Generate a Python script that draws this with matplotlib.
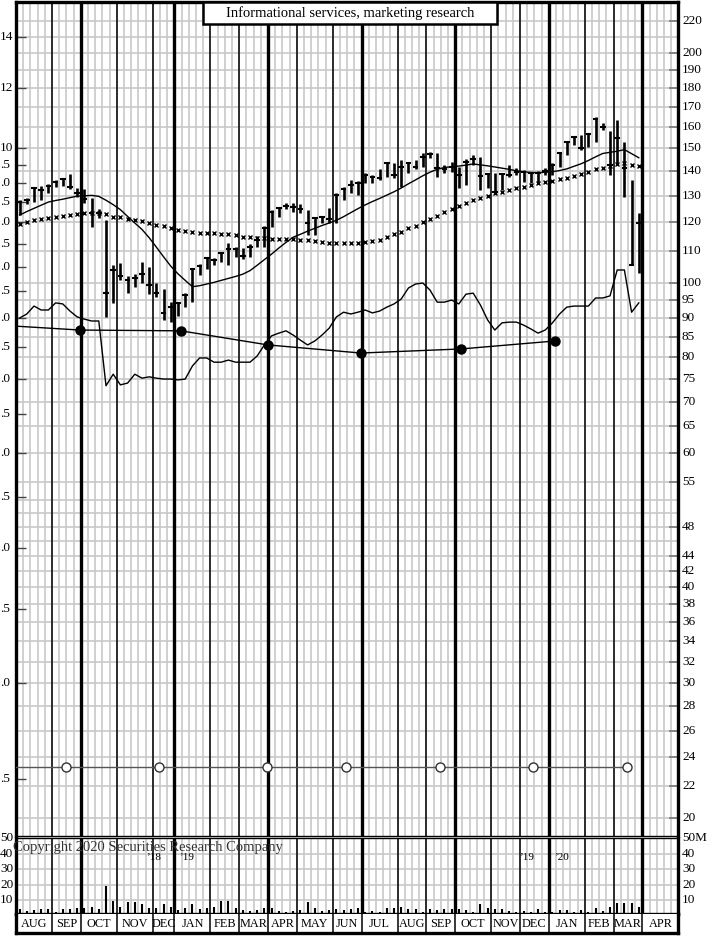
import numpy as np
import matplotlib.pyplot as plt
from matplotlib.patches import Rectangle
from matplotlib.transforms import blended_transform_factory

plt.rcParams['font.family'] = ['Liberation Serif', 'DejaVu Serif']

# Weekly price bars, Aug 2018 - Mar 2020 (one slot per week)
high = [128.4, 129.1, 133.5, 133.9, 134.7, 136.4, 137.2, 138.9, 133.1, 132.7,
        129.2, 124.9, 120.9, 105.6, 106.2, 102.1, 102.7, 106.5, 104.9, 100.0,
        98.2, 94.4, 94.4, 97.0, 104.6, 105.9, 108.1, 107.8, 109.8, 112.8,
        111.4, 111.1, 112.5, 115.2, 118.7, 124.6, 125.7, 127.2, 127.2, 126.8,
        124.6, 122.0, 122.3, 125.3, 131.1, 133.5, 136.4, 136.0, 139.3, 138.5,
        141.0, 143.9, 143.5, 144.8, 143.9, 144.8, 147.9, 148.3, 147.9, 142.6,
        143.9, 141.8, 145.2, 147.0, 146.1, 139.3, 139.3, 139.3, 142.6, 141.4,
        140.6, 139.7, 140.1, 141.4, 143.5, 148.3, 153.3, 155.7, 156.2, 157.1,
        164.9, 161.9, 158.2, 163.4, 152.9, 136.4, 123.5]
low = [122.7, 126.9, 127.6, 128.4, 131.1, 133.5, 133.9, 132.7, 129.6, 127.2,
       118.4, 121.6, 90.3, 94.2, 100.9, 97.0, 98.8, 100.0, 96.7, 95.9,
       89.4, 88.9, 90.5, 93.0, 94.4, 102.4, 104.3, 105.6, 106.5, 105.6,
       108.1, 107.5, 108.1, 111.4, 111.4, 118.4, 122.0, 124.9, 123.8, 123.5,
       115.6, 115.6, 119.8, 119.8, 119.8, 128.4, 131.1, 130.3, 135.1, 135.1,
       136.4, 137.6, 137.2, 133.5, 139.3, 141.0, 141.8, 145.7, 137.6, 139.3,
       139.7, 133.1, 134.3, 142.6, 132.3, 133.1, 131.1, 132.3, 137.6, 138.5,
       135.5, 135.1, 135.5, 138.5, 138.5, 141.8, 147.0, 151.5, 149.2, 150.6,
       153.0, 158.6, 138.5, 142.6, 129.6, 105.6, 103.1]
close = [127.6, 128.4, 133.1, 132.3, 133.9, 135.5, 136.8, 133.5, 131.1, 128.8,
         123.5, 123.5, 97.0, 104.0, 102.1, 100.9, 101.5, 102.7, 99.4, 97.0,
         91.4, 93.0, 94.2, 96.5, 104.3, 105.2, 107.8, 107.2, 109.5, 110.8,
         110.8, 108.5, 111.4, 113.8, 118.0, 123.8, 125.3, 126.1, 125.7, 124.9,
         119.8, 121.6, 122.0, 121.2, 130.3, 132.7, 134.3, 135.1, 138.5, 137.6,
         137.2, 143.5, 138.5, 141.8, 143.5, 141.8, 146.1, 147.5, 141.4, 141.0,
         141.8, 138.5, 143.9, 145.2, 138.1, 138.9, 131.5, 138.9, 138.5, 139.7,
         139.7, 139.3, 139.3, 140.1, 142.6, 147.9, 152.9, 155.2, 150.2, 156.6,
         163.9, 159.9, 142.6, 154.8, 141.4, 105.6, 119.8]

# short moving average (solid line)
ma_short = [122.7, 124.0, 125.2, 126.4, 127.6, 128.2, 128.7, 129.3, 129.9, 130.0,
            130.2, 129.8, 128.3, 126.6, 124.7, 122.2, 119.8, 117.5, 114.6, 111.4,
            108.2, 105.2, 102.8, 100.8, 98.9, 99.2, 99.7, 100.2, 100.8, 101.4,
            102.0, 102.7, 103.8, 105.5, 107.3, 109.1, 111.1, 113.0, 114.8, 115.8,
            116.9, 117.9, 118.9, 119.8, 120.8, 122.1, 123.6, 125.1, 126.5, 127.8,
            129.0, 130.3, 131.6, 133.1, 134.8, 136.4, 138.1, 139.6, 140.8, 141.6,
            141.9, 142.2, 142.6, 143.1, 142.7, 142.3, 141.8, 141.3, 140.8, 140.2,
            139.8, 139.5, 139.4, 139.6, 139.8, 140.3, 141.0, 142.1, 143.2, 144.6,
            146.2, 147.7, 148.2, 148.7, 149.4, 147.6, 145.8]

# long moving average (x markers)
ma_long = [119.4, 120.2, 120.9, 121.2, 121.6, 122.0, 122.3, 122.7, 123.1, 123.5,
           123.5, 123.5, 123.1, 122.0, 122.0, 121.2, 120.9, 120.5, 119.8, 119.1,
           118.7, 118.0, 117.3, 116.9, 116.6, 116.3, 116.3, 116.3, 115.9, 115.9,
           115.5, 114.9, 114.9, 114.5, 114.5, 114.2, 114.2, 114.2, 114.2, 113.8,
           113.8, 113.5, 113.2, 112.8, 112.8, 112.8, 112.8, 112.8, 113.2, 113.5,
           113.8, 114.9, 115.9, 116.6, 118.0, 118.7, 120.2, 121.2, 122.3, 123.8,
           125.0, 126.1, 127.2, 128.4, 129.2, 130.0, 131.1, 131.5, 132.3, 133.1,
           133.5, 134.3, 135.1, 135.5, 136.0, 136.8, 137.2, 138.0, 138.9, 139.7,
           141.0, 141.4, 142.2, 143.1, 143.5, 142.7, 142.2]

# relative strength line
rel_strength = [90.0, 91.1, 93.3, 92.2, 92.2, 94.2, 93.9, 91.9, 90.3, 89.7,
                89.2, 89.2, 73.4, 76.0, 73.6, 74.0, 76.0, 75.1, 75.4, 75.1,
                74.9, 74.9, 74.7, 74.9, 77.9, 79.8, 79.8, 78.8, 78.8, 79.3,
                78.8, 78.8, 78.8, 80.3, 83.0, 85.3, 86.0, 86.6, 85.5, 84.2,
                83.0, 84.0, 85.5, 87.3, 90.3, 91.6, 91.1, 91.6, 92.2, 91.4,
                91.9, 93.0, 93.9, 95.3, 98.5, 99.7, 100.0, 97.9, 94.4, 94.4,
                95.0, 93.9, 96.7, 97.0, 93.6, 89.5, 86.8, 88.7, 88.9, 88.9,
                88.1, 87.1, 86.0, 86.8, 88.7, 91.1, 93.0, 93.3, 93.3, 93.3,
                95.6, 95.6, 96.2, 104.0, 104.0, 91.6, 94.2]

# weekly volume, millions
volume = [4.3, 3.0, 3.4, 4.3, 4.3, 2.6, 4.3, 4.3, 5.1, 5.1,
          5.7, 4.0, 18.9, 9.6, 5.7, 8.5, 8.9, 7.2, 5.1, 5.1,
          7.2, 5.3, 3.6, 5.1, 7.2, 4.3, 5.1, 5.7, 9.4, 9.4,
          5.1, 3.6, 3.2, 3.6, 5.1, 5.1, 3.0, 2.1, 3.0, 3.6,
          8.5, 5.1, 3.0, 3.6, 4.3, 3.6, 4.3, 5.1, 2.6, 3.0,
          2.6, 5.1, 4.7, 5.5, 4.3, 4.0, 2.6, 4.0, 3.6, 4.3,
          4.3, 4.0, 3.6, 2.6, 7.2, 5.1, 4.3, 4.3, 3.0, 2.1,
          3.0, 2.6, 4.0, 2.1, 2.1, 3.6, 3.6, 2.6, 3.6, 2.6,
          5.1, 3.0, 5.7, 7.9, 8.3, 8.3, 5.7]

# quarterly earnings line (week position, price-scale value)
earn_weeks = [-4.1, 8.9, 22.9, 35.0, 47.9, 61.8, 74.9]
earn_vals = [88.3, 86.8, 86.6, 83.0, 81.0, 82.0, 84.0]

# dividend line
div_weeks = [-6.1, 6.9, 19.9, 34.9, 45.8, 58.9, 71.8, 84.9]
div_vals = [23.3, 23.3, 23.3, 23.3, 23.3, 23.3, 23.3, 23.3]

months = ['AUG', 'SEP', 'OCT', 'NOV', 'DEC', 'JAN', 'FEB', 'MAR', 'APR', 'MAY', 'JUN',
          'JUL', 'AUG', 'SEP', 'OCT', 'NOV', 'DEC', 'JAN', 'FEB', 'MAR', 'APR']
month_start = [0, 5, 9, 14, 19, 22, 27, 31, 35, 39, 44, 48, 53, 57, 61, 66, 70, 74, 79, 83, 87, 92]
quarter_start = [9, 22, 35, 48, 61, 74, 87]

right_ticks = [220, 200, 190, 180, 170, 160, 150, 140, 130, 120, 110, 100, 95, 90, 85, 80,
               75, 70, 65, 60, 55, 48, 44, 42, 40, 38, 36, 34, 32, 30, 28, 26, 24, 22, 20]
grid_prices = right_ticks + [210, 52, 50, 46]
# left (earnings) scale; the chart shows only the part after the cut edge
left_ticks = [14, 12, 10, 9.5, 9.0, 8.5, 8.0, 7.5, 7.0, 6.5, 6.0, 5.5, 5.0, 4.5, 4.0,
              3.5, 3.0, 2.5, 2.0, 1.5]
left_labels = ['14', '12', '10', '.5', '.0', '.5', '.0', '.5', '.0', '.5', '.0', '.5', '.0',
               '.5', '.0', '.5', '.0', '.5', '.0', '.5']
pe_ratio = 15
vol_ticks = [10, 20, 30, 40, 50]

W, H = 723, 936
nweeks = month_start[-1]


def box(x0, y0, x1, y1):
    return [x0 / W, 1 - y1 / H, (x1 - x0) / W, (y1 - y0) / H]


fig = plt.figure(figsize=(W / 100, H / 100), dpi=100)
ax = fig.add_axes(box(16, 2, 678.4, 836))
axv = fig.add_axes(box(16, 838, 678.4, 914))
axm = fig.add_axes(box(16, 914, 678.4, 933))

x = np.arange(len(close)) + 0.5
gray = '#c8c8c8'

# ---- price panel
ax.set_yscale('log')
ax.set_ylim(18.93, 233.0)
ax.set_xlim(0, nweeks)
ax.set_xticks([])
ax.set_yticks([])
ax.minorticks_off()
for p in grid_prices:
    ax.axhline(p, color=gray, lw=1.2, zorder=0)
for a in (ax, axv):
    for k in range(1, nweeks):
        a.axvline(k, color=gray, lw=1.2, zorder=0)
    for k in month_start[1:-1]:
        a.axvline(k, color='black', lw=2.4 if k in quarter_start else 1.1, zorder=1)

ax.vlines(x, low, high, color='black', lw=1.9, zorder=4)
ax.hlines(close, x - 0.38, x + 0.38, color='black', lw=1.5, zorder=4)
ax.plot(x, ma_short, color='black', lw=1.0, zorder=3)
ax.plot(x, ma_long, 'x', color='black', ms=3.0, mew=1.0, zorder=3)
ax.plot(x, rel_strength, color='black', lw=1.0, zorder=3)
ax.plot(earn_weeks, earn_vals, color='black', lw=1.0, zorder=3)
ax.plot(earn_weeks[1:], earn_vals[1:], 'o', color='black', ms=6.5, zorder=4)
ax.plot(div_weeks, div_vals, color='#555555', lw=1.0, zorder=3)
ax.plot(div_weeks[1:], div_vals[1:], 'o', mfc='white', mec='#333333', mew=1.0, ms=6.5, zorder=4)

# scale ticks and labels
ax.hlines(right_ticks, nweeks - 1.3, nweeks, color='#777777', lw=1.2, zorder=2)
ax.hlines([v * pe_ratio for v in left_ticks], 0, 1.4, color='#444444', lw=1.0, zorder=2)
tr = blended_transform_factory(fig.transFigure, ax.transData)
for p in right_ticks:
    ax.text(682 / W, p, str(p), transform=tr, ha='left', va='center', fontsize=9.5)
for v, lab in zip(left_ticks, left_labels):
    xr = 12.7 if v >= 10 else 10.0
    ax.text(xr / W, v * pe_ratio, lab, transform=tr, ha='right', va='center', fontsize=9.5)

for side in ('top', 'left', 'right'):
    ax.spines[side].set_linewidth(2.4)
ax.spines['bottom'].set_linewidth(1.0)

# ---- volume panel
axv.set_xlim(0, nweeks)
axv.set_ylim(1.0, 50.0)
axv.set_xticks([])
axv.set_yticks([])
for v in vol_ticks[:-1]:
    axv.axhline(v, color=gray, lw=1.2, zorder=0)
axv.vlines(x, 0, volume, color='black', lw=1.5, zorder=3)
trv = blended_transform_factory(fig.transFigure, axv.transData)
for v in vol_ticks:
    axv.text(682 / W, v, '50M' if v == 50 else str(v), transform=trv, ha='left', va='center', fontsize=9.5)
    axv.text(13.5 / W, v, str(v), transform=trv, ha='right', va='center', fontsize=9.5)
for side in ('left', 'right', 'bottom'):
    axv.spines[side].set_linewidth(2.4)
axv.spines['top'].set_linewidth(1.0)

# ---- month labels
axm.set_xlim(0, nweeks)
axm.set_ylim(0, 1)
axm.set_xticks([])
axm.set_yticks([])
for k in month_start[1:-1]:
    axm.axvline(k, color='black', lw=1.1)
for i, m in enumerate(months):
    axm.text((month_start[i] + month_start[i + 1]) / 2, 0.45, m, ha='center', va='center', fontsize=8.8)
for side in ('left', 'right', 'bottom'):
    axm.spines[side].set_linewidth(2.4)
axm.spines['top'].set_visible(False)

# ---- texts
fig.add_artist(Rectangle((203 / W, 1 - 24 / H), 294 / W, 22 / H, transform=fig.transFigure,
                         facecolor='white', edgecolor='black', lw=1.8, zorder=10))
fig.text(350 / W, 1 - 13.5 / H, 'Informational services, marketing research', ha='center', va='center',
         fontsize=10.5, zorder=11)
fig.text(13 / W, 1 - 848 / H, 'Copyright 2020 Securities Research Company', ha='left', va='center',
         fontsize=10.5, color='#333333', zorder=11)
for xp, lab in [(153, "\u201918"), (186, "\u201919"), (526, "\u201919"), (561, "\u201920")]:
    fig.text(xp / W, 1 - 858 / H, lab, ha='center', va='center', fontsize=8, zorder=11)

fig.savefig('out.png', dpi=100)
